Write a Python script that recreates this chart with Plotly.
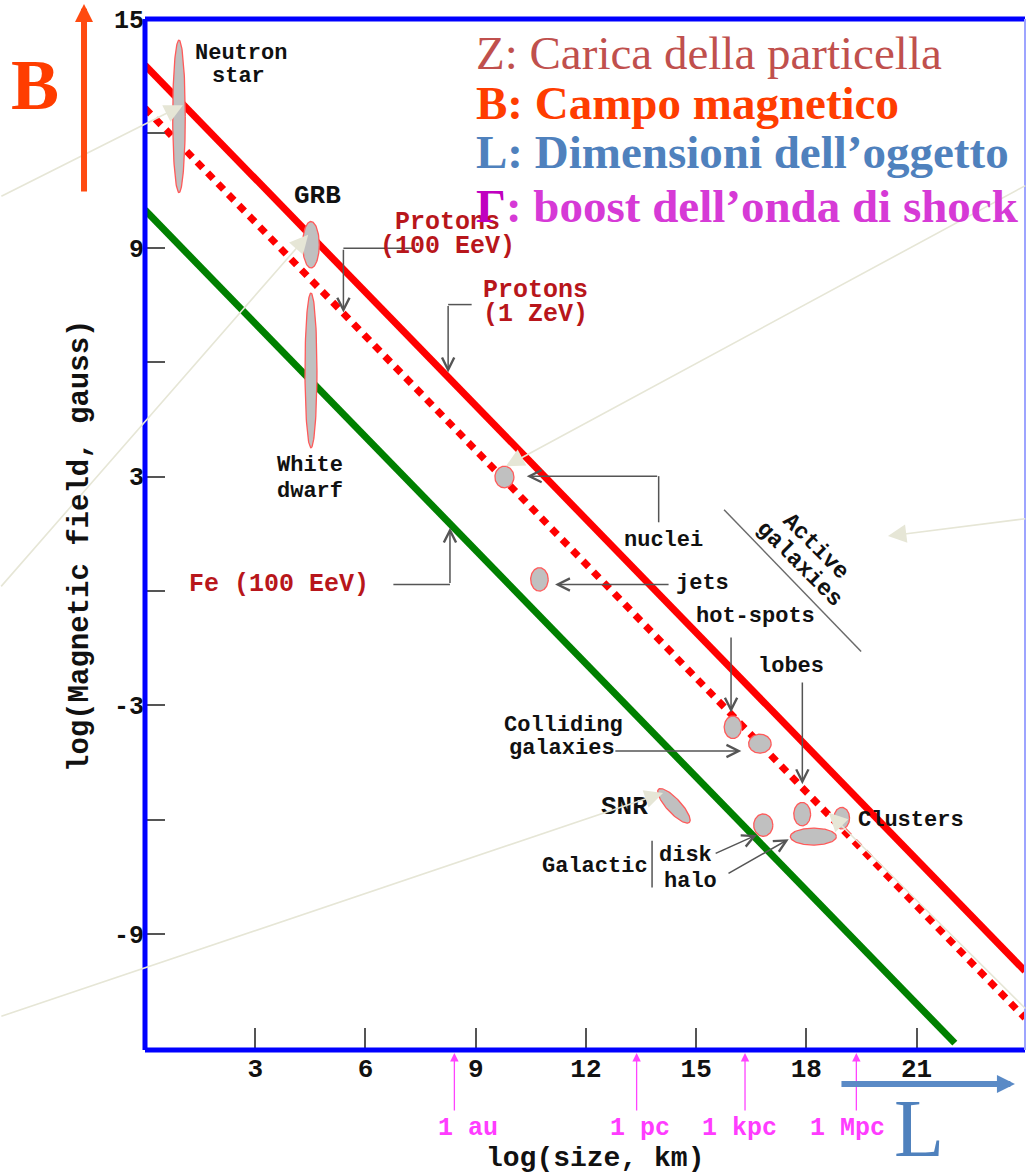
import numpy as np
import plotly.graph_objects as go

# Axis extent: log10(size / km) and log10(B / gauss)
X_RANGE = [0, 23.95]
Y_RANGE = [-12.04, 15]
X_TICKS = [3, 6, 9, 12, 15, 18, 21]
Y_TICKS = [-9, -6, -3, 0, 3, 6, 9, 12, 15]
Y_TICK_TEXT = ["-9", "", "-3", "", "3", "", "9", "", "15"]

# Hillas maximum-energy lines (log B at both ends of each line)
limit_names = ["Protons (1 ZeV)", "Protons (100 EeV)", "Fe (100 EeV)"]
limit_x = [[0.0, 23.95], [0.0, 23.95], [0.0, 22.04]]
limit_y = [[13.79, -9.97], [12.66, -11.20], [9.99, -11.86]]
limit_colors = ["#ff0000", "#ff0000", "#008000"]
limit_dash = ["solid", "8px,7px", "solid"]

# Source classes: centre, half extents and tilt of each region
src_names = ["Neutron star", "GRB", "White dwarf", "AGN nuclei", "AGN jets",
             "Hot-spots", "Colliding galaxies", "SNR", "Galactic disk",
             "Lobes", "Clusters", "Galactic halo"]
src_x = [0.925, 4.517, 4.517, 9.782, 10.735, 16.00, 16.735, 14.395, 16.827,
         17.886, 18.963, 18.190]
src_y = [12.446, 9.079, 5.783, 2.988, 0.302, -3.575, -4.007, -5.637, -6.142,
         -5.854, -5.959, -6.443]
src_dx = [0.171, 0.226, 0.163, 0.259, 0.239, 0.237, 0.307, 0.605, 0.261,
          0.229, 0.212, 0.626]
src_dy = [2.00, 0.61, 2.03, 0.283, 0.307, 0.296, 0.249, 0.19, 0.293,
          0.307, 0.283, 0.223]
src_tilt = [0, 0, 0, 0, 0, 0, 0, -46, 0, 0, 0, 0]

# Text labels inside the plot
lab_text = ["Neutron", "star", "GRB", "Protons", "(100 EeV)", "Protons", "(1 ZeV)",
            "White", "dwarf", "Fe (100 EeV)", "nuclei", "jets", "hot-spots",
            "lobes", "Colliding", "galaxies", "SNR", "Galactic", "disk", "halo",
            "Clusters"]
lab_x = [2.612, 2.531, 4.694, 8.231, 8.231, 10.639, 10.639, 4.503, 4.503, 3.646,
         14.122, 15.184, 16.612, 17.586, 11.393, 11.347, 13.061, 12.237, 14.702,
         14.857, 20.835]
lab_y = [14.083, 13.486, 10.36, 9.655, 9.027, 7.874, 7.245, 3.294, 2.608, 0.171,
         1.33, 0.198, -0.667, -1.971, -3.523, -4.125, -5.671, -7.216, -6.928,
         -7.609, -6.011]
lab_color = ["#111111"] * 3 + ["#b8161b"] * 4 + ["#111111"] * 2 + ["#b8161b"] + ["#111111"] * 11
lab_size = [22, 22, 26, 25, 25, 25, 25, 22, 22, 25, 22, 22, 22, 22, 22, 22, 26,
            22, 22, 22, 22]

active_text = ["Active", "galaxies"]
active_x = [18.253, 17.796]
active_y = [1.154, 0.696]

# Pointer arrows: tail (x, y) -> head (x, y)
ptr_tail_x = [5.40, 8.25, 8.30, 13.98, 14.29, 15.95, 17.89, 12.76, 15.49, 15.84]
ptr_tail_y = [8.99, 7.51, 0.17, 3.01, 0.17, -1.18, -2.36, -4.20, -6.90, -7.43]
ptr_head_x = [5.40, 8.25, 8.30, 10.39, 11.16, 15.95, 17.89, 16.23, 16.65, 17.52]
ptr_head_y = [7.30, 5.73, 1.66, 3.01, 0.17, -3.19, -5.07, -4.20, -6.40, -6.51]

# Plain connector segments (x0, y0, x1, y1)
seg_x0 = [7.34, 8.89, 6.76, 13.98, 15.76, 13.80]
seg_y0 = [8.99, 7.51, 0.17, 1.80, 2.13, -6.554]
seg_x1 = [5.40, 8.25, 8.30, 13.98, 19.49, 13.80]
seg_y1 = [8.99, 7.51, 0.17, 3.01, -1.59, -7.775]
seg_color = ["#555555"] * 4 + ["#6a6a6a", "#555555"]

# Light call-out arrows running across the chart
call_tail_x = [-3.95, -3.95, 24.0, 24.0, -3.95, 24.0]
call_tail_y = [10.33, 0.08, 10.65, 1.90, -11.17, -10.99]
call_head_x = [1.03, 4.44, 9.82, 20.22, 14.10, 18.61]
call_head_y = [12.74, 9.34, 3.27, 1.44, -5.30, -5.82]

# Distance scale markers on the size axis
scale_text = ["1 au", "1 pc", "1 kpc", "1 Mpc"]
scale_x = [8.42, 13.38, 16.33, 19.36]
scale_label_x = [8.80, 13.47, 16.17, 19.12]

MONO = "Liberation Mono"
SERIF = "Liberation Serif"

fig = go.Figure()

for nm, xs, ys, col, dash in zip(limit_names, limit_x, limit_y, limit_colors, limit_dash):
    fig.add_trace(go.Scatter(x=xs, y=ys, mode="lines", name=nm,
                             line=dict(color=col, width=7, dash=dash),
                             hoverinfo="skip"))

t = np.linspace(0, 2 * np.pi, 121)
for nm, cx, cy, dx, dy, tilt in zip(src_names, src_x, src_y, src_dx, src_dy, src_tilt):
    th = np.deg2rad(tilt)
    ex = cx + dx * np.cos(t) * np.cos(th) - dy * np.sin(t) * np.sin(th)
    ey = cy + dx * np.cos(t) * np.sin(th) + dy * np.sin(t) * np.cos(th)
    fig.add_trace(go.Scatter(x=ex, y=ey, mode="lines", fill="toself", name=nm,
                             fillcolor="#c0c0c0",
                             line=dict(color="#ff5a5a", width=1.3),
                             hoverinfo="skip"))

ann = []
for txt, x, y, col, sz in zip(lab_text, lab_x, lab_y, lab_color, lab_size):
    ann.append(dict(x=x, y=y, xref="x", yref="y", text=txt, showarrow=False,
                    xanchor="center", yanchor="middle",
                    font=dict(family=MONO, size=sz, color=col, weight="bold")))
for txt, x, y in zip(active_text, active_x, active_y):
    ann.append(dict(x=x, y=y, xref="x", yref="y", text=txt, showarrow=False,
                    textangle=45, xanchor="center", yanchor="middle",
                    font=dict(family=MONO, size=23, color="#111111", weight="bold")))

for tx, ty, hx, hy in zip(ptr_tail_x, ptr_tail_y, ptr_head_x, ptr_head_y):
    ann.append(dict(x=hx, y=hy, ax=tx, ay=ty, xref="x", yref="y", axref="x", ayref="y",
                    text="", showarrow=True, arrowhead=5, arrowsize=1.6,
                    arrowwidth=1.5, arrowcolor="#555555"))

for tx, ty, hx, hy in zip(call_tail_x, call_tail_y, call_head_x, call_head_y):
    ann.append(dict(x=hx, y=hy, ax=tx, ay=ty, xref="x", yref="y", axref="x", ayref="y",
                    text="", showarrow=True, arrowhead=2, arrowsize=2.3,
                    arrowwidth=1.6, arrowcolor="#e6e6d6"))

for txt, x, lx in zip(scale_text, scale_x, scale_label_x):
    ann.append(dict(x=x, y=-0.003, xref="x", yref="paper", ax=0, ay=59, text="",
                    showarrow=True, arrowhead=2, arrowsize=1.3, arrowwidth=1.3,
                    arrowcolor="#ff44ff"))
    ann.append(dict(x=lx, y=-0.0766, xref="x", yref="paper", text=txt, showarrow=False,
                    xanchor="center", yanchor="middle",
                    font=dict(family=MONO, size=25, color="#ff3cff", weight="bold")))

# Axis titles
ann.append(dict(x=0.511, y=-0.1048, xref="paper", yref="paper", text="log(size, km)",
                showarrow=False, xanchor="center", yanchor="middle",
                font=dict(family=MONO, size=28, color="#111111", weight="bold")))
ann.append(dict(x=-0.0739, y=0.4888, xref="paper", yref="paper",
                text="log(Magnetic field, gauss)", textangle=-90, showarrow=False,
                xanchor="center", yanchor="middle",
                font=dict(family=MONO, size=29, color="#111111", weight="bold")))

# Quantities of the Hillas condition
legend_lines = [
    ("Z: Carica della particella", "#c0504d", "normal", 0.9675),
    ("B: Campo magnetico", "#ff3d00", "bold", 0.9185),
    ("L: Dimensioni dell\u2019oggetto", "#4f81bd", "bold", 0.8713),
    ("<span style='color:#c000c0'>\u0393</span>: boost dell\u2019onda di shock", "#d63ad6", "bold", 0.8186),
]
for txt, col, wt, y in legend_lines:
    ann.append(dict(x=0.3739, y=y, xref="paper", yref="paper", text=txt, showarrow=False,
                    xanchor="left", yanchor="middle",
                    font=dict(family=SERIF, size=47, color=col, weight=wt)))

# B and L direction markers
ann.append(dict(x=-0.125, y=0.936, xref="paper", yref="paper", text="B", showarrow=False,
                xanchor="center", yanchor="middle",
                font=dict(family=SERIF, size=72, color="#ff3d00", weight="bold")))
ann.append(dict(x=-0.0693, y=1.0146, xref="paper", yref="paper", ax=0, ay=189, text="",
                showarrow=True, arrowhead=2, arrowsize=0.6, arrowwidth=6,
                arrowcolor="#ff4a10"))
ann.append(dict(x=0.8795, y=-0.0757, xref="paper", yref="paper", text="L", showarrow=False,
                xanchor="center", yanchor="middle",
                font=dict(family=SERIF, size=82, color="#4f81bd")))
ann.append(dict(x=0.9886, y=-0.033, xref="paper", yref="paper", ax=-175, ay=0, text="",
                showarrow=True, arrowhead=2, arrowsize=0.6, arrowwidth=6,
                arrowcolor="#5a8ac6"))

shapes = []
for x0, y0, x1, y1, col in zip(seg_x0, seg_y0, seg_x1, seg_y1, seg_color):
    shapes.append(dict(type="line", xref="x", yref="y", x0=x0, y0=y0, x1=x1, y1=y1,
                       line=dict(color=col, width=1.5)))
# Frame
shapes.append(dict(type="line", xref="paper", yref="paper", x0=0, y0=0, x1=0, y1=1,
                   line=dict(color="#0000ff", width=5)))
shapes.append(dict(type="line", xref="paper", yref="paper", x0=0, y0=1, x1=1, y1=1,
                   line=dict(color="#0000ff", width=5)))
shapes.append(dict(type="line", xref="paper", yref="paper", x0=0, y0=0, x1=1, y1=0,
                   line=dict(color="#0000ff", width=5)))
shapes.append(dict(type="line", xref="paper", yref="paper", x0=1, y0=0, x1=1, y1=1,
                   line=dict(color="#9da4ff", width=2)))

fig.update_layout(
    width=1027, height=1175,
    margin=dict(l=145, r=2, t=19, b=125),
    paper_bgcolor="white", plot_bgcolor="white",
    showlegend=False,
    annotations=ann, shapes=shapes,
    xaxis=dict(range=X_RANGE, tickvals=X_TICKS, ticks="inside", ticklen=22,
               tickwidth=1.5, tickcolor="#555555", showgrid=False, zeroline=False,
               showline=False,
               tickfont=dict(family=MONO, size=26, color="#111111", weight="bold")),
    yaxis=dict(range=Y_RANGE, tickvals=Y_TICKS, ticktext=Y_TICK_TEXT, ticks="inside",
               ticklen=20, tickwidth=1.5, tickcolor="#555555", showgrid=False,
               zeroline=False, showline=False,
               tickfont=dict(family=MONO, size=25, color="#111111", weight="bold")),
)

fig.write_html("out.html")
